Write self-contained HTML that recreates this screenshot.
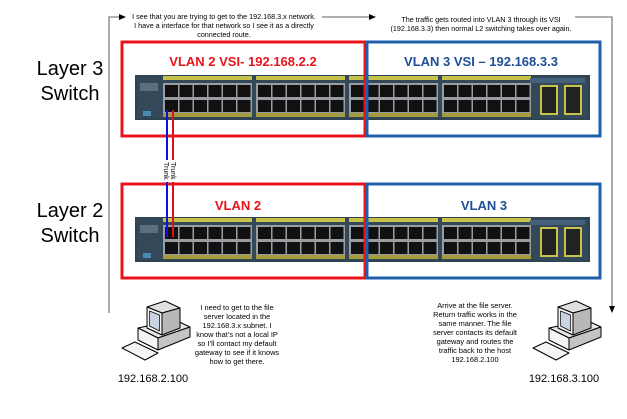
<!DOCTYPE html>
<html><head><meta charset="utf-8"><style>
body{margin:0;background:#fff;}
svg text{font-family:"Liberation Sans",sans-serif;}
</style></head><body>
<svg width="627" height="414" viewBox="0 0 627 414" xmlns="http://www.w3.org/2000/svg">
<defs>
<g id="pg">
 <rect x="0" y="8" width="89" height="30" fill="#9a9ea2"/>
 <g fill="#111">
  <rect x="2" y="10" width="13" height="12"/><rect x="16.5" y="10" width="13" height="12"/><rect x="31" y="10" width="13" height="12"/><rect x="45.5" y="10" width="13" height="12"/><rect x="60" y="10" width="13" height="12"/><rect x="74.5" y="10" width="13" height="12"/>
  <rect x="2" y="25" width="13" height="12"/><rect x="16.5" y="25" width="13" height="12"/><rect x="31" y="25" width="13" height="12"/><rect x="45.5" y="25" width="13" height="12"/><rect x="60" y="25" width="13" height="12"/><rect x="74.5" y="25" width="13" height="12"/>
 </g>
 <rect x="0" y="1" width="89" height="4" fill="#c8c24a"/>
 <rect x="0" y="38" width="89" height="4" fill="#a59c3e"/>
</g>
<g id="sw">
 <rect x="0" y="0" width="455" height="45" fill="#2f4352"/>
 <rect x="2" y="2" width="451" height="41" fill="#33495a"/>
 <use href="#pg" x="28"/><use href="#pg" x="121"/><use href="#pg" x="214"/><use href="#pg" x="307"/>
 <rect x="405" y="10" width="18" height="30" fill="#c8c24a"/><rect x="407" y="12" width="14" height="26" fill="#222"/>
 <rect x="429" y="10" width="18" height="30" fill="#c8c24a"/><rect x="431" y="12" width="14" height="26" fill="#222"/>
 <rect x="5" y="8" width="18" height="8" fill="#5a7080"/>
 <rect x="8" y="36" width="8" height="5" fill="#4a8ab0"/>
 <rect x="395" y="3" width="55" height="5" fill="#45607a"/>
</g>
<g id="pc" stroke="#000" stroke-width="1" stroke-linejoin="round">
 <polygon points="138,328 175,320 190,327 158,338" fill="#e6e6e6"/>
 <polygon points="138,328 158,338 158,350 138,340" fill="#f4f4f4"/>
 <polygon points="158,338 190,327 190,337 158,350" fill="#c4c4c4"/>
 <polygon points="147,307 165,301 180,308 162,313" fill="#e0e0e0"/>
 <polygon points="162,313 180,308 180,328 162,335" fill="#b8b8b8"/>
 <polygon points="147,307 162,313 162,335 147,328" fill="#f2f2f2"/>
 <polygon points="149.5,311 159.5,315 159.5,331 149.5,326" fill="#c9d3e2" stroke-width=".7"/>
 <polygon points="122,348 135,342 158,353 145,360" fill="#f4f4f4"/>
</g>
</defs>
<g stroke="#808080" stroke-width="1.3" fill="none">
 <polyline points="109,313 109,17 120,17"/>
 <line x1="322" y1="17" x2="370" y2="17"/>
 <polyline points="575,17 612,17 612,306"/>
</g>
<polygon points="126,17 119,14 119,20" fill="#000"/>
<polygon points="376,17 369,14 369,20" fill="#000"/>
<polygon points="612,313 609,306 615,306" fill="#000"/>
<g font-size="7.2" text-anchor="middle" fill="#000">
 <text x="224" y="19">I see that you are trying to get to the  192.168.3.x network.</text>
 <text x="224" y="28">I have a interface for that network so I see it as a directly</text>
 <text x="224" y="37">connected route.</text>
 <text x="481" y="22">The traffic gets routed into VLAN 3 through its VSI</text>
 <text x="481" y="31">(192.168.3.3) then normal L2 switching takes over again.</text>
</g>
<g font-size="20" text-anchor="middle" fill="#000">
 <text x="70" y="75">Layer 3</text><text x="70" y="100">Switch</text>
 <text x="70" y="217">Layer 2</text><text x="70" y="242">Switch</text>
</g>
<use href="#sw" x="135" y="75"/>
<use href="#sw" x="135" y="217"/>
<rect x="122" y="42" width="243" height="94" fill="none" stroke="#e8141b" stroke-width="3"/>
<rect x="367" y="42" width="233" height="94" fill="none" stroke="#1d5fa8" stroke-width="3"/>
<rect x="122" y="184" width="243" height="94" fill="none" stroke="#e8141b" stroke-width="3"/>
<rect x="367" y="184" width="233" height="94" fill="none" stroke="#1d5fa8" stroke-width="3"/>
<g font-size="13" font-weight="bold" text-anchor="middle">
 <text x="243" y="66" fill="#e8141b">VLAN 2 VSI- 192.168.2.2</text>
 <text x="481" y="66" fill="#1d4f96">VLAN 3 VSI – 192.168.3.3</text>
 <text x="238" y="210" fill="#e8141b">VLAN 2</text>
 <text x="484" y="210" fill="#1d4f96">VLAN 3</text>
</g>
<line x1="167" y1="110" x2="167" y2="237" stroke="#1010e0" stroke-width="2"/>
<line x1="173" y1="110" x2="173" y2="237" stroke="#e01010" stroke-width="2"/>
<rect x="164" y="160" width="12" height="22" fill="#fff"/>
<text font-size="7" transform="translate(164,162) rotate(90)">Trunk</text>
<text font-size="7" transform="translate(171,162) rotate(90)">Trunk</text>
<use href="#pc"/>
<use href="#pc" x="411" y="0"/>
<g font-size="11" text-anchor="middle">
 <text x="153" y="382">192.168.2.100</text>
 <text x="564" y="382">192.168.3.100</text>
</g>
<g font-size="7.4" text-anchor="middle">
 <text x="237" y="310">I need to get to the file</text>
 <text x="237" y="319">server located in the</text>
 <text x="237" y="328">192.168.3.x subnet.  I</text>
 <text x="237" y="337">know that’s not a local IP</text>
 <text x="237" y="346">so I’ll contact my default</text>
 <text x="237" y="355">gateway to see if it knows</text>
 <text x="237" y="364">how to get there.</text>
 <text x="475" y="308">Arrive at the file server.</text>
 <text x="475" y="317">Return traffic works in the</text>
 <text x="475" y="326">same manner.  The file</text>
 <text x="475" y="335">server contacts its default</text>
 <text x="475" y="344">gateway and routes the</text>
 <text x="475" y="353">traffic back to the host</text>
 <text x="475" y="362">192.168.2.100</text>
</g>
</svg>
</body></html>
